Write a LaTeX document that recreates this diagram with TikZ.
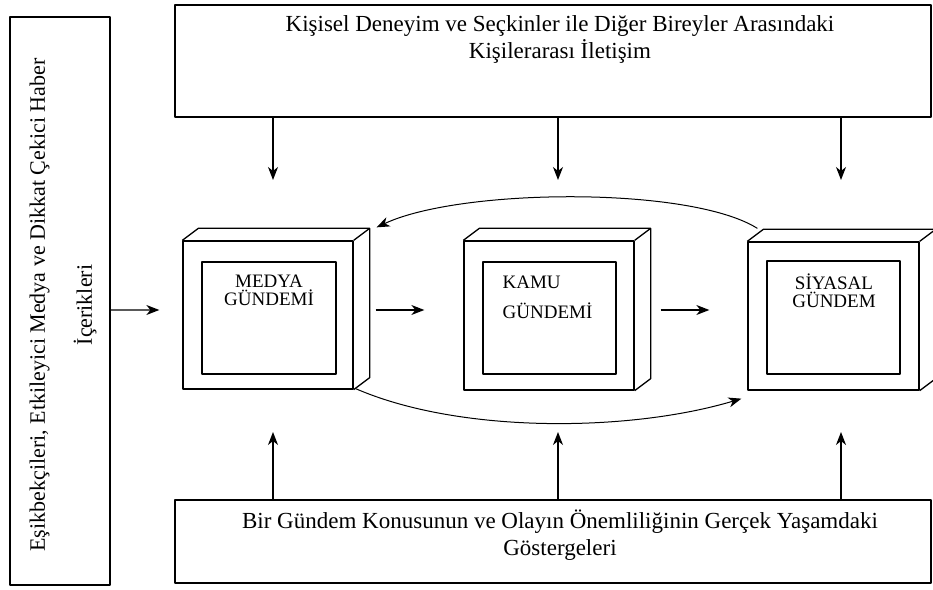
\documentclass[tikz,border=0pt]{standalone}
\usepackage{fontspec}
\setmainfont{Liberation Serif}
\usetikzlibrary{arrows.meta}
\begin{document}
\begin{tikzpicture}[>={Stealth[length=13bp,width=10bp,inset=4bp]},line join=bevel,line width=1.3bp,
  kutu/.style={draw,inner sep=0pt},
  yazi/.style={align=center,inner sep=0pt,font=\fontsize{23bp}{27bp}\selectfont},
  etiket/.style={align=center,inner sep=0pt,font=\fontsize{19bp}{18bp}\selectfont},
  ]
\useasboundingbox (0bp,0bp) rectangle (933bp,590bp);
%%
\node (esik) at (60bp,289bp) [kutu,minimum width=100bp,minimum height=568bp] {};
  \node (esik_yazi) at (63bp,285bp) [yazi,font=\fontsize{22bp}{27bp}\selectfont,rotate=90] {Eşikbekçileri, Etkileyici Medya ve Dikkat Çekici Haber\\[20bp]İçerikleri};
\node (kisisel) at (553bp,529bp) [kutu,minimum width=756bp,minimum height=112bp] {};
  \node (kisisel_yazi) at (560bp,551bp) [yazi] {Kişisel Deneyim ve Seçkinler ile Diğer Bireyler Arasındaki\\Kişilerarası İletişim};
\node (gosterge) at (553bp,48.5bp) [kutu,minimum width=756bp,minimum height=83bp] {};
  \node (gosterge_yazi) at (560bp,55bp) [yazi] {Bir Gündem Konusunun ve Olayın Önemliliğinin Gerçek Yaşamdaki\\Göstergeleri};
%
\node (medya) at (268bp,275bp) [kutu,minimum width=170bp,minimum height=148bp] {};
  \node (medya_ic) at (269bp,272bp) [kutu,minimum width=134bp,minimum height=112bp] {};
  \node (medya_yazi) at (269bp,299.5bp) [etiket] {MEDYA\\GÜNDEMİ};
  \draw (medya.north west) -- ++(16bp,12bp) -- ([shift={(16bp,12bp)}]medya.north east) -- ([shift={(16bp,12bp)}]medya.south east) -- (medya.south east);
  \draw (medya.north east) -- ++(16bp,12bp);
\node (kamu) at (549bp,274.5bp) [kutu,minimum width=170bp,minimum height=149bp] {};
  \node (kamu_ic) at (549.5bp,272bp) [kutu,minimum width=133bp,minimum height=112bp] {};
  \node (kamu_yazi) at (502bp,293bp) [etiket,align=left,anchor=west] {KAMU\\[12bp]GÜNDEMİ};
  \draw (kamu.north west) -- ++(16bp,12bp) -- ([shift={(16bp,12bp)}]kamu.north east) -- ([shift={(16bp,12bp)}]kamu.south east) -- (kamu.south east);
  \draw (kamu.north east) -- ++(16bp,12bp);
\node (siyasal) at (833.5bp,274bp) [kutu,minimum width=171bp,minimum height=148bp] {};
  \node (siyasal_ic) at (833.5bp,272.5bp) [kutu,minimum width=133bp,minimum height=113bp] {};
  \node (siyasal_yazi) at (834bp,299bp) [etiket] {SİYASAL\\GÜNDEM};
  \draw (siyasal.north west) -- ++(16bp,12bp) -- ([shift={(16bp,12bp)}]siyasal.north east) -- ([shift={(16bp,12bp)}]siyasal.south east) -- (siyasal.south east);
  \draw (siyasal.north east) -- ++(16bp,12bp);
%
\coordinate (medya_ust) at (273bp,410bp);
\coordinate (kamu_ust) at (558bp,410bp);
\coordinate (siyasal_ust) at (841bp,410bp);
\coordinate (medya_alt) at (273bp,158bp);
\coordinate (kamu_alt) at (558bp,158bp);
\coordinate (siyasal_alt) at (841bp,158bp);
  \draw [->] (kisisel.south -| medya_ust) -- (medya_ust);
  \draw [->] (kisisel.south -| kamu_ust) -- (kamu_ust);
  \draw [->] (kisisel.south -| siyasal_ust) -- (siyasal_ust);
  \draw [->] (gosterge.north -| medya_alt) -- (medya_alt);
  \draw [->] (gosterge.north -| kamu_alt) -- (kamu_alt);
  \draw [->] (gosterge.north -| siyasal_alt) -- (siyasal_alt);
%
  \draw [->] ([yshift=-9bp]esik.east) -- ([xshift=-23bp,yshift=5bp]medya.west);
  \draw [->] ([xshift=22bp,yshift=5bp]medya.east) -- ([xshift=-39bp,yshift=5.5bp]kamu.west);
  \draw [->] ([xshift=26bp,yshift=5.5bp]kamu.east) -- ([xshift=-38bp,yshift=6bp]siyasal.west);
%
  \draw [->,line width=1bp] ([shift={(10bp,13bp)}]siyasal.north west) ..controls (690bp,404bp) and (460bp,402bp) .. ([shift={(23bp,13bp)}]medya.north east);
  \draw [->,line width=1bp] ([shift={(2bp,1bp)}]medya.south east) ..controls (460bp,156bp) and (630bp,158bp) .. ([shift={(-6bp,-8bp)}]siyasal.south west);
%
\end{tikzpicture}
\end{document}
